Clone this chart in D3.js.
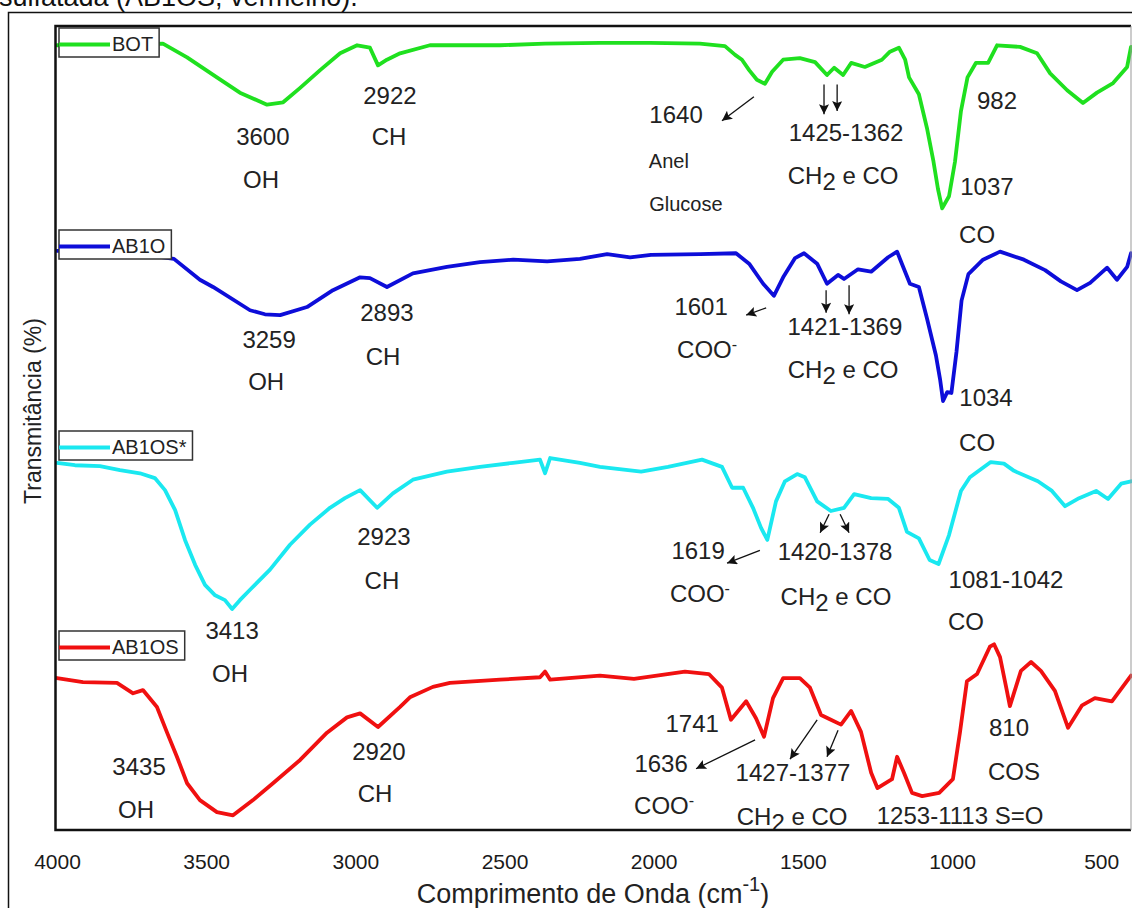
<!DOCTYPE html>
<html lang="pt">
<head>
<meta charset="UTF-8">
<title>FTIR</title>
<style>
  body { margin: 0; background: #fff; }
  text { font-family: "Liberation Sans", Arial, sans-serif; fill: #222; }
  .note { font-size: 24px; }
  .small { font-size: 20px; }
  .legend text { font-size: 20px; }
  .curve { fill: none; stroke-width: 3.8px; stroke-linejoin: round; stroke-linecap: round; }
</style>
</head>
<body>
<svg id="svg" width="1132" height="908"></svg>
<script src="https://d3js.org/d3.v7.min.js"></script>
<script>
// wavenumber (cm-1), transmittance (stacked, arbitrary %)
const botData = [
  [4000, 97.6], [3856, 97.6], [3645, 97.8], [3564, 96.1], [3464, 93.6], [3387, 91.7],
  [3296, 90.2], [3242, 90.5], [3185, 92.3], [3118, 94.5], [3051, 96.6], [2994, 97.6],
  [2951, 97.3], [2924, 95.1], [2894, 95.8], [2850, 96.6], [2750, 97.6], [2515, 97.6],
  [2364, 97.8], [2180, 97.9], [2012, 97.9], [1845, 97.8], [1761, 97.5], [1727, 96.4],
  [1704, 95.8], [1680, 94.5], [1654, 93.3], [1627, 92.8], [1603, 94.3], [1566, 95.8],
  [1510, 96.0], [1459, 95.5], [1419, 93.9], [1395, 94.8], [1365, 93.9], [1338, 95.4],
  [1292, 94.9], [1235, 95.8], [1208, 96.8], [1178, 97.3], [1157, 95.8], [1144, 93.6],
  [1111, 91.5], [1084, 87.3], [1062, 83.1], [1047, 79.7], [1033, 77.3], [1010, 78.8],
  [990, 83.1], [970, 89.4], [948, 93.6], [920, 95.4], [879, 95.4], [849, 97.6],
  [772, 97.4], [715, 96.6], [671, 94.1], [614, 92.0], [561, 90.4], [514, 91.7],
  [460, 92.9], [413, 94.9], [400, 97.4]
];

const ab1oData = [
  [4000, 72.0], [3822, 72.1], [3608, 71.0], [3521, 68.4], [3477, 67.5], [3353, 64.6],
  [3303, 64.1], [3252, 64.0], [3162, 65.0], [3075, 67.1], [2984, 68.7], [2951, 68.6],
  [2894, 67.5], [2807, 69.2], [2693, 70.0], [2582, 70.6], [2471, 70.9], [2357, 70.7],
  [2247, 71.0], [2156, 71.6], [2079, 71.2], [2009, 71.5], [1845, 71.6], [1724, 71.7],
  [1680, 70.4], [1633, 67.9], [1597, 66.4], [1566, 68.7], [1526, 71.1], [1496, 71.7],
  [1452, 70.4], [1419, 67.9], [1382, 69.0], [1362, 68.5], [1315, 69.7], [1271, 69.4],
  [1214, 71.2], [1184, 71.9], [1168, 70.4], [1141, 67.9], [1111, 67.5], [1084, 63.6],
  [1054, 59.0], [1040, 56.0], [1030, 53.3], [1016, 54.4], [1002, 54.3], [985, 59.4],
  [968, 65.8], [945, 69.1], [896, 70.9], [839, 71.9], [759, 70.9], [688, 69.6],
  [635, 68.2], [581, 67.1], [537, 68.0], [480, 69.9], [447, 68.4], [413, 70.0],
  [400, 71.7]
];

const ab1osStarData = [
  [4000, 45.6], [3940, 45.3], [3856, 45.2], [3789, 44.7], [3722, 44.3], [3672, 43.7],
  [3638, 42.2], [3604, 39.7], [3571, 36.0], [3537, 32.9], [3504, 30.4], [3470, 29.1],
  [3437, 28.5], [3413, 27.4], [3387, 28.5], [3353, 29.8], [3286, 32.3], [3219, 35.4],
  [3152, 37.9], [3085, 40.0], [3035, 41.2], [2984, 42.2], [2927, 40.0], [2874, 41.8],
  [2807, 43.5], [2693, 44.5], [2582, 45.1], [2471, 45.6], [2381, 46.0], [2364, 44.3],
  [2347, 46.2], [2247, 45.6], [2180, 45.1], [2042, 44.5], [1952, 45.1], [1838, 46.0],
  [1771, 45.1], [1737, 42.5], [1700, 42.5], [1667, 40.0], [1640, 37.5], [1619, 36.0],
  [1590, 40.8], [1560, 43.3], [1519, 44.2], [1493, 43.8], [1452, 40.8], [1406, 39.6],
  [1362, 40.0], [1328, 41.7], [1271, 41.2], [1214, 41.1], [1178, 40.0], [1151, 37.0],
  [1111, 36.2], [1075, 33.5], [1045, 33.0], [1010, 36.6], [970, 42.1], [940, 43.8],
  [870, 45.7], [826, 45.5], [792, 44.6], [712, 43.3], [665, 42.1], [621, 40.2],
  [574, 41.2], [517, 42.1], [477, 41.1], [433, 43.0], [400, 43.3]
];

const ab1osData = [
  [4000, 18.8], [3913, 18.3], [3799, 18.2], [3745, 16.9], [3712, 17.3], [3665, 15.2],
  [3631, 12.0], [3598, 9.0], [3564, 5.7], [3521, 3.6], [3464, 2.1], [3410, 1.7],
  [3343, 3.6], [3276, 5.7], [3185, 8.6], [3095, 12.0], [3028, 13.9], [2984, 14.4],
  [2924, 12.7], [2850, 15.2], [2817, 16.4], [2740, 17.7], [2683, 18.2], [2515, 18.6],
  [2381, 18.9], [2364, 19.6], [2347, 18.6], [2180, 19.1], [2066, 18.7], [1895, 19.6],
  [1815, 19.3], [1771, 17.6], [1741, 13.6], [1690, 15.9], [1657, 13.8], [1630, 11.5],
  [1600, 16.3], [1566, 18.8], [1510, 18.8], [1476, 17.6], [1439, 14.2], [1406, 13.6],
  [1372, 13.0], [1338, 14.7], [1305, 12.1], [1271, 7.0], [1250, 5.1], [1201, 6.2],
  [1184, 9.0], [1161, 7.0], [1134, 4.5], [1100, 4.1], [1043, 4.5], [997, 6.2],
  [973, 12.1], [950, 18.4], [916, 19.3], [873, 22.7], [859, 23.0], [839, 21.4],
  [816, 17.2], [806, 15.3], [769, 19.7], [735, 20.8], [702, 19.7], [655, 17.2],
  [611, 12.6], [564, 15.4], [521, 16.3], [464, 15.9], [400, 19.1]
];

const seriesNames = ["BOT", "AB1O", "AB1OS*", "AB1OS"];
const seriesColors = ["#1fe01f", "#0d0dd9", "#1ae8f0", "#f01010"];
const xTicks = [4000, 3500, 3000, 2500, 2000, 1500, 1000, 500];

// [text, wavenumber, transmittance]  ("_2" subscript, "^-" superscript)
const botNotes = [
  ["3600", 3310, 86.3], ["OH", 3316, 80.9], ["2922", 2884, 91.4], ["CH", 2887, 86.2],
  ["1640", 1925, 89.0], ["1425-1362", 1355, 86.7], ["CH_2 e CO", 1365, 81.4],
  ["982", 849, 90.7], ["1037", 883, 80.0], ["CO", 916, 74.0]
];
const botSmallNotes = [["Anel", 1949, 83.2], ["Glucose", 1892, 77.8]];
const ab1oNotes = [
  ["3259", 3289, 61.0], ["OH", 3299, 55.7], ["2893", 2894, 64.3], ["CH", 2907, 58.8],
  ["1601", 1841, 65.1], ["COO^-", 1821, 59.7], ["1421-1369", 1359, 62.6],
  ["CH_2 e CO", 1365, 57.2], ["1034", 886, 53.7], ["CO", 916, 48.2]
];
const ab1osStarNotes = [
  ["3413", 3413, 24.7], ["OH", 3420, 19.4], ["2923", 2904, 36.4], ["CH", 2911, 31.0],
  ["1619", 1851, 34.7], ["COO^-", 1845, 29.3], ["1420-1378", 1392, 34.6],
  ["CH_2 e CO", 1389, 29.0], ["1081-1042", 819, 31.1], ["CO", 953, 25.8]
];
const ab1osNotes = [
  ["3435", 3725, 7.8], ["OH", 3735, 2.4], ["2920", 2921, 9.7], ["CH", 2934, 4.5],
  ["1741", 1871, 13.2], ["1636", 1975, 8.2], ["COO^-", 1965, 2.9],
  ["1427-1377", 1533, 7.0], ["CH_2 e CO", 1536, 1.6], ["1253-1113 S=O", 973, 1.7],
  ["810", 809, 12.7], ["COS", 792, 7.2]
];

// [wn from, t from, wn tip, t tip]
const arrows = [
  [1664, 91.2, 1771, 88.2], [1429, 92.7, 1429, 89.0], [1385, 92.7, 1385, 89.4],
  [1623, 64.9, 1690, 64.0], [1422, 67.1, 1422, 64.3], [1345, 67.7, 1345, 64.1],
  [1644, 34.7, 1754, 33.1], [1412, 39.2, 1442, 36.9], [1375, 39.2, 1345, 36.9],
  [1660, 11.1, 1858, 7.5], [1452, 13.6, 1543, 8.7], [1382, 12.3, 1419, 9.0]
];

const svg = d3.select("#svg");
const plotLeft = 57, plotRight = 1131, plotTop = 26, plotBottom = 830;

const x = d3.scaleLinear().domain([4000, 400]).range([plotLeft, plotRight]);
const y = d3.scaleLinear().domain([0, 100]).range([829, plotTop]);

// caption fragment cut at top of the page
svg.append("text").attr("x", -1).attr("y", 6)
  .style("font-size", "27px").style("fill", "#111")
  .text("sulfatada (AB1OS, vermelho).");

// outer figure frame
svg.append("path").attr("d", "M8.5,908 V12.5 H1132")
  .attr("fill", "none").attr("stroke", "#111").attr("stroke-width", 1.5);

const line = d3.line().x(d => x(d[0])).y(d => y(d[1]));
const allData = [botData, ab1oData, ab1osStarData, ab1osData];

svg.append("g").selectAll("path")
  .data(allData)
  .enter().append("path")
  .attr("class", "curve")
  .attr("stroke", (d, i) => seriesColors[i])
  .attr("d", line);

// legends
const legendTops = [28, 230, 431, 631];
const legend = svg.append("g").attr("class", "legend");
seriesNames.forEach(function(name, i) {
  const g = legend.append("g").attr("transform", "translate(59," + legendTops[i] + ")");
  const box = g.append("rect").attr("height", 29).attr("fill", "#fff")
    .attr("stroke", "#333").attr("stroke-width", 1.5);
  g.append("line").attr("x1", 0).attr("x2", 51).attr("y1", 16.5).attr("y2", 16.5)
    .attr("stroke", seriesColors[i]).attr("stroke-width", 3.8);
  const t = g.append("text").attr("x", 53).attr("y", 16).attr("dy", "0.35em").text(name);
  box.attr("width", 53 + t.node().getComputedTextLength() + 6);
});

// annotations
function addNote(g, n, cls) {
  const t = g.append("text").attr("class", cls)
    .attr("x", x(n[1])).attr("y", y(n[2]))
    .attr("text-anchor", "middle").attr("dy", "0.36em");
  if (n[0].indexOf("_2") >= 0) {
    const parts = n[0].split("_2");
    t.append("tspan").text(parts[0]);
    t.append("tspan").attr("dy", 6).text("2");
    t.append("tspan").attr("dy", -6).text(parts[1]);
  } else if (n[0].indexOf("^-") >= 0) {
    t.append("tspan").text(n[0].replace("^-", ""));
    t.append("tspan").attr("dy", -8).style("font-size", "16px").text("-");
  } else {
    t.text(n[0]);
  }
}
const notes = svg.append("g");
[botNotes, ab1oNotes, ab1osStarNotes, ab1osNotes].forEach(function(list) {
  list.forEach(n => addNote(notes, n, "note"));
});
botSmallNotes.forEach(n => addNote(notes, n, "small"));

svg.append("defs").append("marker")
  .attr("id", "head").attr("viewBox", "0 0 10 10")
  .attr("refX", 10).attr("refY", 5)
  .attr("markerUnits", "userSpaceOnUse")
  .attr("markerWidth", 15).attr("markerHeight", 10)
  .attr("orient", "auto")
  .append("path").attr("d", "M0,0 L10,5 L0,10 L2,5 Z").attr("fill", "#111");

svg.append("g").selectAll("line")
  .data(arrows)
  .enter().append("line")
  .attr("x1", d => x(d[0])).attr("y1", d => y(d[1]))
  .attr("x2", d => x(d[2])).attr("y2", d => y(d[3]))
  .attr("stroke", "#111").attr("stroke-width", 1.3)
  .attr("marker-end", "url(#head)");

// plot frame
svg.append("path")
  .attr("d", "M" + plotRight + "," + plotTop + " H" + (plotLeft - 1.5) + " V" + plotBottom + " H" + plotRight)
  .attr("fill", "none").attr("stroke", "#111").attr("stroke-width", 2.5);
svg.append("line").attr("x1", plotRight).attr("x2", plotRight).attr("y1", plotTop).attr("y2", plotBottom)
  .attr("stroke", "#999").attr("stroke-width", 1);

// x axis labels
const xAxis = svg.append("g")
  .attr("transform", "translate(0," + plotBottom + ")")
  .call(d3.axisBottom(x).tickValues(xTicks).tickSize(0).tickPadding(24).tickFormat(d3.format("d")));
xAxis.select(".domain").remove();
xAxis.selectAll("text").style("font-size", "21px").style("fill", "#1a1a1a")
  .style("font-family", "'Liberation Sans', Arial, sans-serif");

const xTitle = svg.append("text").attr("x", 593).attr("y", 903)
  .attr("text-anchor", "middle").style("font-size", "27px");
xTitle.append("tspan").text("Comprimento de Onda (cm");
xTitle.append("tspan").attr("dy", -12).style("font-size", "20px").text("-1");
xTitle.append("tspan").attr("dy", 12).text(")");

svg.append("text")
  .attr("transform", "translate(41,411) rotate(-90)")
  .attr("text-anchor", "middle").style("font-size", "23px")
  .text("Transmitância (%)");
</script>
</body>
</html>
